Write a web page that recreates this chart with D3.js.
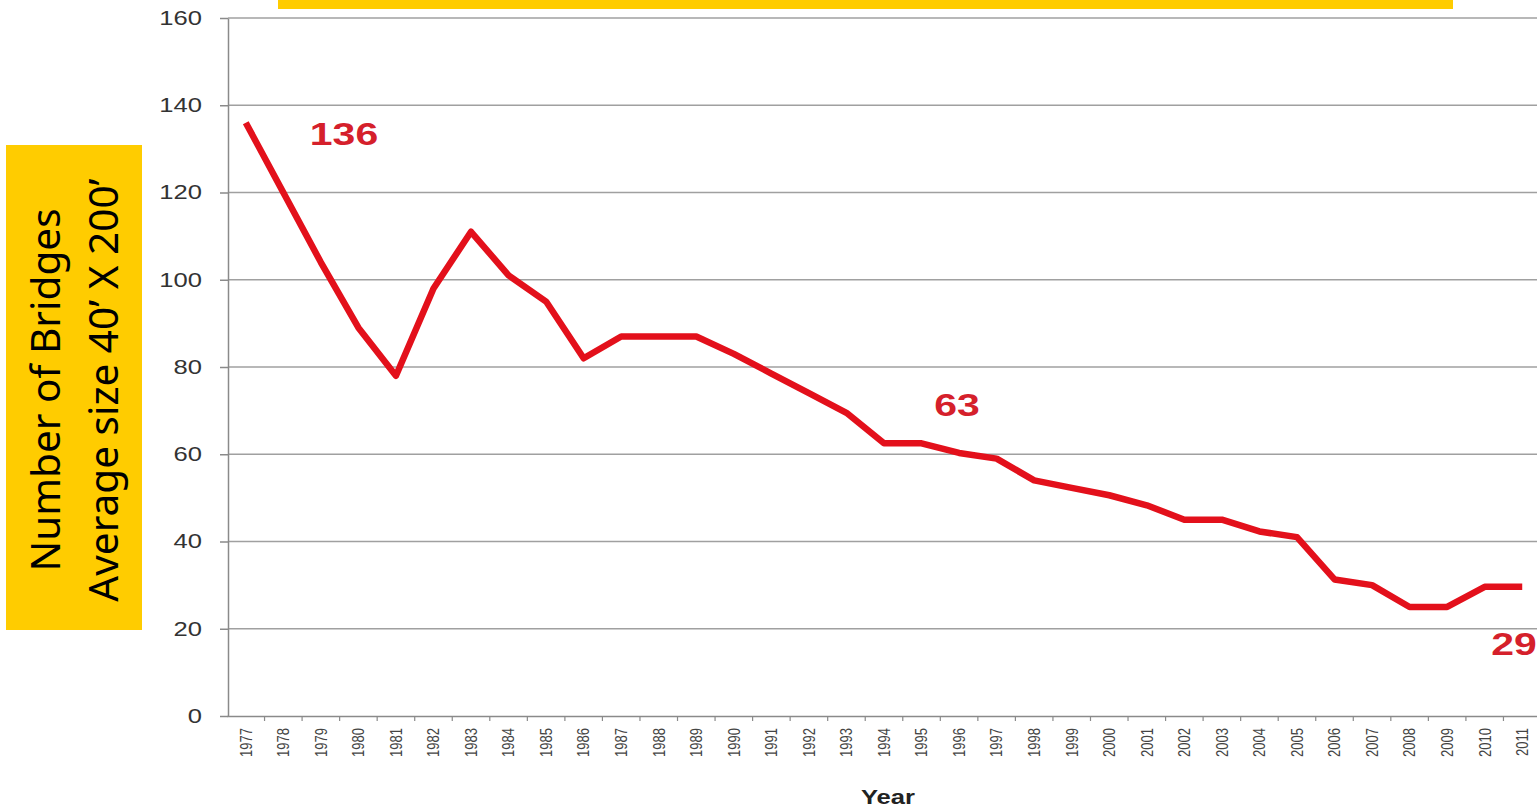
<!DOCTYPE html>
<html>
<head>
<meta charset="utf-8">
<script src="https://cdn.jsdelivr.net/npm/d3@7"></script>
<style>
  body { margin: 0; background: #fff; }
  svg { display: block; }
</style>
</head>
<body>
<script>
var width = 1537, height = 808;

// data
var years = ["1977","1978","1979","1980","1981","1982","1983","1984","1985","1986",
             "1987","1988","1989","1990","1991","1992","1993","1994","1995","1996",
             "1997","1998","1999","2000","2001","2002","2003","2004","2005","2006",
             "2007","2008","2009","2010","2011"];
var bridges = [136, 120, 104, 89, 78, 98, 111, 101, 95, 82,
               87, 87, 87, 83, 78.5, 74, 69.5, 62.5, 62.5, 60.3,
               59, 54, 52.3, 50.6, 48.3, 45, 45, 42.3, 41, 31.3,
               30, 25, 25, 29.6, 29.6];
var yTicks = [0, 20, 40, 60, 80, 100, 120, 140, 160];
var callouts = ["136", "63", "29"];
var yLabel = ["Number of Bridges", "Average size 40\u2019 X 200\u2019"];

// the source picture is stretched sideways a little
var stretch = 1.28;

var svg = d3.select("body").append("svg")
    .attr("width", width)
    .attr("height", height);

var x = d3.scaleBand().domain(years).range([227, 1541]);
var y = d3.scaleLinear().domain([0, 160]).range([716, 18]);

// top yellow strip
svg.append("rect")
    .attr("x", 278).attr("y", 0)
    .attr("width", 1175).attr("height", 9)
    .attr("fill", "#ffcc00");

// grid lines
svg.append("g")
    .selectAll("line")
    .data(yTicks.slice(1))
    .join("line")
    .attr("x1", 228).attr("x2", width)
    .attr("y1", function(d) { return y(d); })
    .attr("y2", function(d) { return y(d); })
    .attr("stroke", "#a0a0a0")
    .attr("stroke-width", 1.5);

// y axis
var yAxis = svg.append("g")
    .attr("transform", "translate(228,0)")
    .call(d3.axisLeft(y).tickValues(yTicks).tickSize(8).tickPadding(18).tickSizeOuter(0));
yAxis.select(".domain").attr("stroke", "#8a8a8a").attr("stroke-width", 1.5);
yAxis.selectAll(".tick line").attr("stroke", "#8a8a8a").attr("stroke-width", 1.5);
yAxis.selectAll("text")
    .attr("font-family", "Liberation Sans, Arial, sans-serif")
    .attr("font-size", 20)
    .attr("fill", "#333")
    .attr("x", -26 / stretch)
    .attr("transform", "scale(" + stretch + ",1)");

// x axis
var xAxis = svg.append("g")
    .attr("transform", "translate(0,716)")
    .call(d3.axisBottom(x).tickSize(0).tickSizeOuter(0));
xAxis.select(".domain").attr("stroke", "#8a8a8a").attr("stroke-width", 1.5);
xAxis.selectAll("text")
    .attr("font-family", "Liberation Sans, Arial, sans-serif")
    .attr("font-size", 13)
    .attr("fill", "#444")
    .attr("text-anchor", "end")
    .attr("transform", "scale(" + stretch + ",1) rotate(-90)")
    .attr("x", -12)
    .attr("y", 0)
    .attr("dy", "0.35em");

// small ticks between categories
svg.append("g")
    .selectAll("line")
    .data(years.slice(1))
    .join("line")
    .attr("x1", function(d) { return x(d); })
    .attr("x2", function(d) { return x(d); })
    .attr("y1", 716).attr("y2", 721)
    .attr("stroke", "#8a8a8a")
    .attr("stroke-width", 1.2);

// the line
var line = d3.line()
    .x(function(d, i) { return x(years[i]) + x.bandwidth() / 2; })
    .y(function(d) { return y(d); });

svg.append("path")
    .datum(bridges)
    .attr("d", line)
    .attr("fill", "none")
    .attr("stroke", "#e3101b")
    .attr("stroke-width", 6.5)
    .attr("stroke-linejoin", "round");

// value callouts
var calloutPos = [[344, 133], [957, 404], [1514, 643]];
svg.append("g")
    .selectAll("text")
    .data(callouts)
    .join("text")
    .attr("transform", function(d, i) {
      return "translate(" + calloutPos[i][0] + "," + calloutPos[i][1] + ") scale(" + stretch + ",1)";
    })
    .attr("dy", "0.36em")
    .attr("text-anchor", "middle")
    .attr("font-family", "Liberation Sans, Arial, sans-serif")
    .attr("font-weight", "bold")
    .attr("font-size", 32)
    .attr("fill", "#d5202b")
    .text(function(d) { return d; });

// x title
svg.append("text")
    .attr("transform", "translate(888,797) scale(" + stretch + ",1)")
    .attr("dy", "0.35em")
    .attr("text-anchor", "middle")
    .attr("font-family", "Liberation Sans, Arial, sans-serif")
    .attr("font-weight", "bold")
    .attr("font-size", 20)
    .attr("fill", "#222")
    .text("Year");

// y label box
svg.append("rect")
    .attr("x", 6).attr("y", 145)
    .attr("width", 136).attr("height", 485)
    .attr("fill", "#ffcc00");

var yl = svg.append("text")
    .attr("transform", "translate(74,390) rotate(-90)")
    .attr("text-anchor", "middle")
    .attr("font-family", "Noto Sans, Open Sans, sans-serif")
    .attr("font-size", 40.5)
    .attr("fill", "#000");
yl.selectAll("tspan")
    .data(yLabel)
    .join("tspan")
    .attr("x", 0)
    .attr("y", function(d, i) { return i === 0 ? -14 : 44; })
    .text(function(d) { return d; });
</script>
</body>
</html>
